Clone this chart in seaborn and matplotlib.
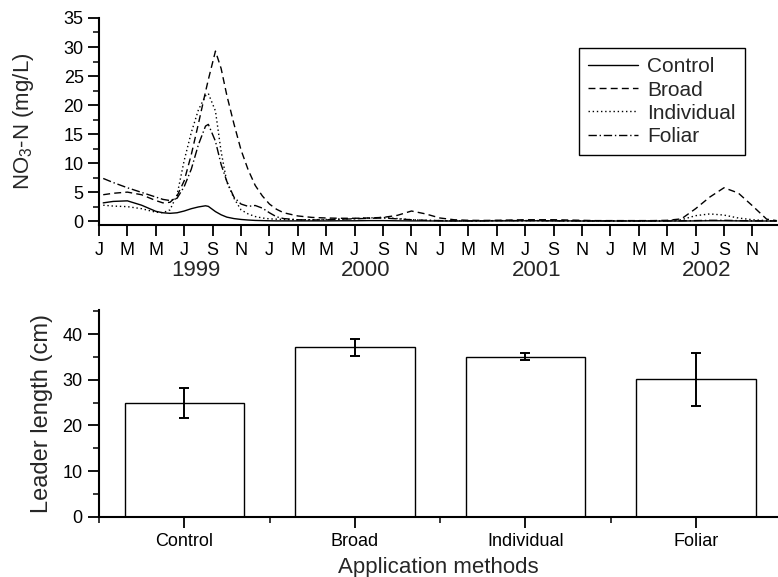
import matplotlib
matplotlib.use("Agg")
import matplotlib.pyplot as plt
import matplotlib.transforms as mtransforms
from matplotlib.ticker import MultipleLocator, FixedLocator
import seaborn as sns

# ---- nitrate time series (months counted from 1 Jan 1999) ----
months = [0.3, 1, 2, 3, 4, 4.5, 5, 5.5, 6, 6.5, 7, 7.5, 7.7, 8.2, 8.6, 9, 9.5, 10, 10.5, 11, 11.5, 12, 12.5, 13,
          14, 15, 16, 17, 18, 19, 20, 21, 22, 23, 24, 25, 26, 27, 28, 29, 30, 31, 32, 33, 34, 35, 36, 37, 38, 39,
          40, 41, 42, 43, 44, 45, 46, 47, 47.7]

control_no3 = [3.2, 3.45, 3.55, 2.8, 1.75, 1.5, 1.4, 1.5, 1.8, 2.2, 2.5, 2.7, 2.6, 1.7, 1.15, 0.75, 0.5, 0.35, 0.25,
               0.18, 0.15, 0.12, 0.1, 0.1,
               0.1, 0.1, 0.1, 0.12, 0.12, 0.15, 0.15, 0.12, 0.1, 0.1, 0.08, 0.08, 0.08, 0.08, 0.1, 0.1, 0.12, 0.12,
               0.1, 0.1, 0.08, 0.08, 0.08, 0.08, 0.08, 0.08, 0.08, 0.08, 0.1, 0.12, 0.12, 0.1, 0.08, 0.08, 0.08]

broad_no3 = [4.6, 4.85, 5.05, 4.6, 3.6, 3.2, 3.3, 4.4, 7.0, 11.5, 16.8, 22.3, 24.4, 29.3, 26.3, 21.7, 16.8, 12.3, 8.9,
             6.2, 4.4, 3.0, 2.1, 1.5,
             0.95, 0.7, 0.6, 0.55, 0.55, 0.6, 0.7, 1.05, 1.8, 1.3, 0.6, 0.3, 0.2, 0.18, 0.2, 0.25, 0.3, 0.3, 0.3,
             0.25, 0.2, 0.15, 0.15, 0.15, 0.15, 0.15, 0.2, 0.45, 2.2, 4.2, 5.8, 4.9, 2.7, 0.4, 0.15]

individual_no3 = [2.8, 2.65, 2.55, 2.2, 1.6, 1.5, 2.0, 4.6, 10.5, 15.3, 19.2, 21.6, 22.0, 19.0, 12.0, 6.8, 4.0, 2.0,
                  1.3, 0.85, 0.6, 0.45, 0.4, 0.35,
                  0.3, 0.3, 0.35, 0.4, 0.5, 0.6, 0.7, 0.5, 0.3, 0.2, 0.15, 0.12, 0.12, 0.12, 0.15, 0.15, 0.15, 0.15,
                  0.12, 0.12, 0.1, 0.1, 0.1, 0.1, 0.1, 0.1, 0.12, 0.3, 1.0, 1.3, 1.1, 0.6, 0.3, 0.15, 0.1]

foliar_no3 = [7.4, 6.7, 5.8, 5.0, 4.2, 3.8, 3.6, 4.0, 6.0, 9.0, 13.2, 16.4, 16.7, 13.8, 9.8, 6.9, 4.2, 3.0, 2.6,
              2.75, 2.3, 1.5, 0.8, 0.5,
              0.3, 0.25, 0.3, 0.4, 0.45, 0.55, 0.6, 0.45, 0.3, 0.2, 0.15, 0.12, 0.12, 0.12, 0.15, 0.15, 0.15, 0.15,
              0.12, 0.12, 0.1, 0.1, 0.1, 0.1, 0.1, 0.1, 0.1, 0.12, 0.15, 0.2, 0.2, 0.15, 0.12, 0.1, 0.1]

month_ticks = [0, 2, 4, 6, 8, 10, 12, 14, 16, 18, 20, 22, 24, 26, 28, 30, 32, 34, 36, 38, 40, 42, 44, 46]
month_letters = ["J", "M", "M", "J", "S", "N"] * 4
years = ["1999", "2000", "2001", "2002"]
year_centres = [6.8, 18.8, 30.8, 42.8]

# ---- leader growth per application method ----
methods = ["Control", "Broad", "Individual", "Foliar"]
leader_length = [25.0, 37.1, 35.1, 30.1]
leader_err = [3.3, 1.9, 0.8, 5.8]

sns.set_style("ticks")
plt.rcParams["font.family"] = ["Liberation Sans", "DejaVu Sans"]
plt.rcParams["mathtext.default"] = "regular"

fig = plt.figure(figsize=(7.78, 5.77), dpi=100)
ax1 = fig.add_axes([0.1272, 0.6101, 0.8728, 0.3588])
ax2 = fig.add_axes([0.1272, 0.1045, 0.8728, 0.3582])

line_styles = {
    "Control": "-",
    "Broad": (0, (5, 3)),
    "Individual": (0, (1, 2)),
    "Foliar": (0, (6, 2, 1, 2)),
}
series = {
    "Control": control_no3,
    "Broad": broad_no3,
    "Individual": individual_no3,
    "Foliar": foliar_no3,
}
for name, vals in series.items():
    sns.lineplot(x=months, y=vals, ax=ax1, color="black", lw=1.0,
                 linestyle=line_styles[name], label=name,
                 estimator=None, sort=False)

ax1.set_xlim(0, 47.8)
ax1.set_ylim(-0.6, 35)
ax1.set_yticks(range(0, 36, 5))
ax1.yaxis.set_minor_locator(MultipleLocator(2.5))
ax1.set_xticks(month_ticks)
ax1.set_xticklabels(month_letters)
ax1.tick_params(axis="both", which="major", direction="out", length=8, width=1.3,
                labelsize=13, color="black", labelcolor="black")
ax1.tick_params(axis="x", pad=4)
ax1.tick_params(axis="y", pad=3)
ax1.tick_params(axis="y", which="minor", direction="out", length=4, width=1.3)
sns.despine(ax=ax1)
for s in ("left", "bottom"):
    ax1.spines[s].set_linewidth(1.5)
    ax1.spines[s].set_color("black")

trans = mtransforms.blended_transform_factory(ax1.transData, ax1.transAxes)
for yr, xc in zip(years, year_centres):
    ax1.text(xc, -0.22, yr, transform=trans, ha="center", va="center", fontsize=16)

ax1.set_xlabel("")
ax1.set_ylabel("NO$_3$-N (mg/L)", fontsize=16)
ax1.yaxis.set_label_coords(-0.092, 0.5)

leg = ax1.legend(loc="upper left", bbox_to_anchor=(0.707, 0.855), frameon=True,
                 fancybox=False, edgecolor="black", framealpha=1, fontsize=15,
                 handlelength=2.4, handletextpad=0.4, borderpad=0.45,
                 labelspacing=0.2, borderaxespad=0)
leg.get_frame().set_linewidth(1.0)

# ---- bar chart ----
sns.barplot(x=methods, y=leader_length, order=methods, ax=ax2, color="white",
            saturation=1, edgecolor="black", linewidth=1.0, width=0.7, errorbar=None)
ax2.errorbar(x=list(range(len(methods))), y=leader_length, yerr=leader_err, fmt="none",
             ecolor="black", elinewidth=1.4, capsize=3.5, capthick=1.4)

ax2.set_xlim(-0.5, 3.48)
ax2.set_ylim(0, 45.3)
ax2.set_yticks(range(0, 41, 10))
ax2.yaxis.set_minor_locator(MultipleLocator(5))
ax2.xaxis.set_minor_locator(FixedLocator([-0.5, 0.5, 1.5, 2.5]))
ax2.tick_params(axis="both", which="major", direction="out", length=8, width=1.3,
                labelsize=13, color="black", labelcolor="black")
ax2.tick_params(axis="x", pad=4)
ax2.tick_params(axis="y", pad=4)
ax2.tick_params(axis="both", which="minor", direction="out", length=4, width=1.3)
sns.despine(ax=ax2)
for s in ("left", "bottom"):
    ax2.spines[s].set_linewidth(1.5)
    ax2.spines[s].set_color("black")

ax2.set_xlabel("Application methods", fontsize=16)
ax2.xaxis.set_label_coords(0.5, -0.195)
ax2.set_ylabel("Leader length (cm)", fontsize=17)
ax2.yaxis.set_label_coords(-0.068, 0.5)

fig.savefig("out.png", dpi=100, facecolor="white")
